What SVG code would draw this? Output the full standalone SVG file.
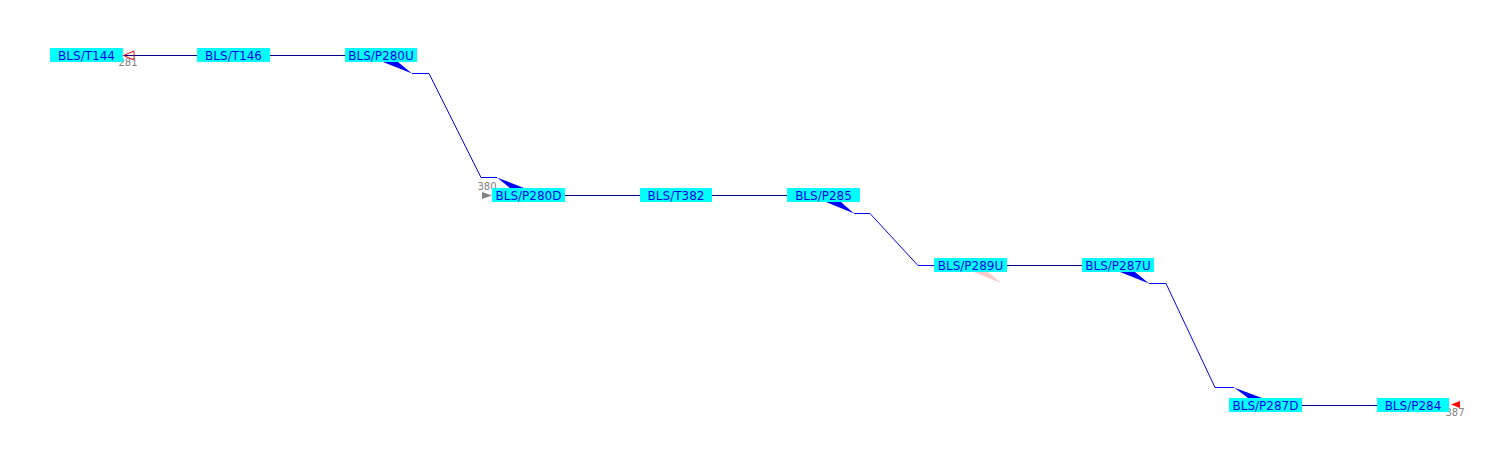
<svg xmlns="http://www.w3.org/2000/svg" width="1500" height="460" viewBox="0 0 1500 460">
<style>
.box{fill:#00ffff;}
.lbl{font-family:"DejaVu Sans",sans-serif;font-size:12px;fill:#0000ee;text-anchor:middle;}
.num{font-family:"DejaVu Sans",sans-serif;font-size:10px;fill:#808080;text-anchor:middle;}
.ln{stroke:#0000ff;stroke-width:1;fill:none;}
.hl{stroke:#00008b;stroke-width:1;fill:none;}
.wedge{fill:#0000ff;}
</style>
<rect width="1500" height="460" fill="#ffffff"/>
<g id="connectors">
<line class="hl" x1="123" y1="55.5" x2="197" y2="55.5"/>
<line class="hl" x1="270" y1="55.5" x2="345" y2="55.5"/>
<line class="hl" x1="565" y1="195.5" x2="640" y2="195.5"/>
<line class="hl" x1="712" y1="195.5" x2="787" y2="195.5"/>
<line class="hl" x1="1007" y1="265.5" x2="1082" y2="265.5"/>
<line class="hl" x1="1302" y1="405.5" x2="1377" y2="405.5"/>
<polyline class="ln" points="412,73.5 429,73.5 481,177.5 497,177.5"/>
<polygon class="wedge" points="383,62 398,62 412,73.5"/>
<polygon class="wedge" points="497,177.5 510,188 524,188"/>
<polyline class="ln" points="854,213.5 870,213.5 918,265.5 934,265.5"/>
<polygon class="wedge" points="826,202 841,202 854,213.5"/>
<polygon fill="#f5bcbc" opacity="0.8" points="974,272 988,272 1001,283"/>
<polyline class="ln" points="1149,283.5 1166,283.5 1215,387.5 1234,387.5"/>
<polygon class="wedge" points="1120,272 1135,272 1149,283.5"/>
<polygon class="wedge" points="1234,387.5 1248,398 1262,398"/>
<polygon fill="none" stroke="#ff0000" stroke-width="1" points="123.5,55.5 134,51 134,60"/>
<text class="num" x="128" y="66">281</text>
<polygon fill="#808080" points="482,192 492,195.5 482,199"/>
<text class="num" x="487" y="190">380</text>
<polygon fill="#ff0000" points="1451,404.5 1460,401 1460,408"/>
<text class="num" x="1455" y="416">387</text>
</g>
<g id="BLS_T144"><rect class="box" x="50" y="48" width="73" height="14"/><text class="lbl" x="86.5" y="59.5">BLS/T144</text></g>
<g id="BLS_T146"><rect class="box" x="197" y="48" width="73" height="14"/><text class="lbl" x="233.5" y="59.5">BLS/T146</text></g>
<g id="BLS_P280U"><rect class="box" x="345" y="48" width="72" height="14"/><text class="lbl" x="381" y="59.5">BLS/P280U</text></g>
<g id="BLS_P280D"><rect class="box" x="492" y="188" width="73" height="14"/><text class="lbl" x="528.5" y="199.5">BLS/P280D</text></g>
<g id="BLS_T382"><rect class="box" x="640" y="188" width="72" height="14"/><text class="lbl" x="676" y="199.5">BLS/T382</text></g>
<g id="BLS_P285"><rect class="box" x="787" y="188" width="73" height="14"/><text class="lbl" x="823.5" y="199.5">BLS/P285</text></g>
<g id="BLS_P289U"><rect class="box" x="934" y="258" width="73" height="14"/><text class="lbl" x="970.5" y="269.5">BLS/P289U</text></g>
<g id="BLS_P287U"><rect class="box" x="1082" y="258" width="72" height="14"/><text class="lbl" x="1118" y="269.5">BLS/P287U</text></g>
<g id="BLS_P287D"><rect class="box" x="1229" y="398" width="73" height="14"/><text class="lbl" x="1265.5" y="409.5">BLS/P287D</text></g>
<g id="BLS_P284"><rect class="box" x="1377" y="398" width="72" height="14"/><text class="lbl" x="1413" y="409.5">BLS/P284</text></g>
</svg>
